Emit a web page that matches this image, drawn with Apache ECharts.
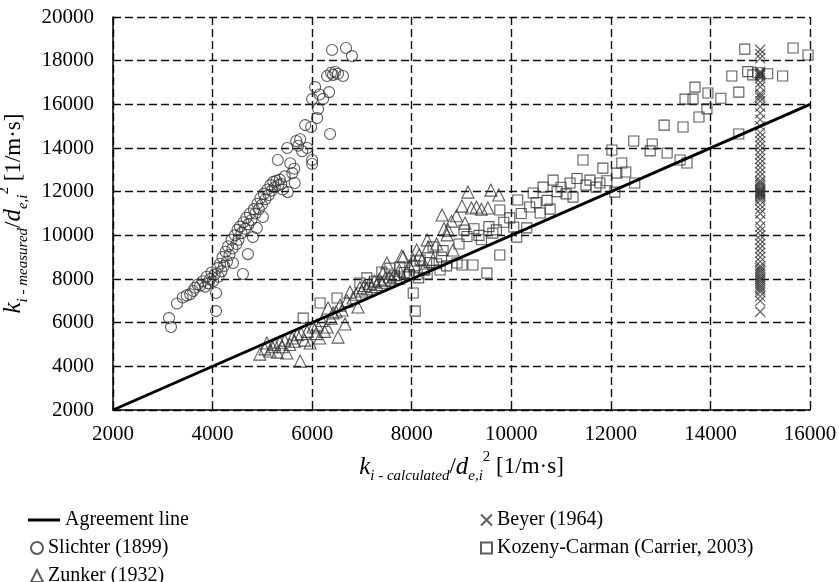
<!DOCTYPE html>
<html>
<head>
<meta charset="utf-8">
<script src="https://cdn.jsdelivr.net/npm/echarts@6/dist/echarts.min.js"></script>
<style>
  html, body { margin: 0; padding: 0; background: #fff; }
  #chart { width: 839px; height: 582px; }
</style>
</head>
<body>
<div id="chart"></div>
<script>
// tick labels
var xTicks = [2000, 16000, 2000];   // min, max, step
var yTicks = [2000, 20000, 2000];

// 1:1 agreement line end points
var agreementLine = [[2000, 2000], [16000, 16000]];

// Slichter (1899)
var slichter = [
    [3125,6210],[3165,5800],[3285,6880],[3400,7150],[3480,7250],[3550,7300],[3610,7450],[3650,7600],
    [3700,7750],[3750,7700],[3800,7900],[3850,7650],[3880,8100],[3920,7800],[3950,8000],[3980,8300],
    [4010,7900],[4040,8200],[4070,7360],[4070,6530],[4100,8500],[4120,8100],[4150,8700],[4180,8350],
    [4200,9000],[4230,8600],[4260,9250],[4290,8800],[4310,9500],[4340,9100],[4380,9800],[4400,9400],
    [4410,8730],[4450,10000],[4480,9600],[4500,10250],[4520,9800],[4550,10400],[4580,10100],[4610,8230],
    [4620,10600],[4650,10300],[4680,10800],[4710,9140],[4720,10500],[4750,11000],[4780,10700],[4810,9920],
    [4830,11200],[4860,11000],[4890,10340],[4900,11450],[4930,11200],[4960,11700],[4990,11400],[5010,10840],
    [5030,11900],[5060,11650],[5100,12100],[5130,11850],[5160,12300],[5190,12050],[5220,12450],[5250,12200],
    [5280,12500],[5310,13450],[5320,12300],[5350,12550],[5380,12350],[5410,12100],[5450,12700],[5500,14000],
    [5510,11980],[5560,13300],[5600,12850],[5640,13050],[5650,12400],[5680,14320],[5720,14100],[5760,14400],
    [5800,13850],[5860,15050],[5900,14000],[5980,14960],[6000,13450],[6000,13270],[6000,16240],[6060,16790],
    [6100,15370],[6120,15790],[6150,16450],[6220,16250],[6300,17300],[6340,16560],[6360,14640],[6380,17450],
    [6420,17350],[6460,17480],[6400,18490],[6520,17400],[6620,17300],[6680,18580],[6800,18210]
];

// Zunker (1932)
var zunker = [
    [4950,4560],[5050,4800],[5090,5070],[5150,4700],[5200,4900],[5250,5000],[5300,4650],[5350,5100],
    [5400,4900],[5450,5200],[5490,4610],[5550,5000],[5600,5300],[5650,5150],[5700,5450],[5760,4240],
    [5780,5500],[5850,5200],[5900,5600],[5960,5070],[6020,5800],[6080,5500],[6100,5900],[6150,5300],
    [6200,6100],[6250,5600],[6300,5800],[6320,6670],[6380,6200],[6420,6440],[6480,6500],[6520,5340],
    [6560,6800],[6600,6580],[6660,5940],[6700,7000],[6760,7400],[6820,7130],[6880,7300],[6920,6720],
    [6960,7600],[7000,7450],[7050,7700],[7100,7550],[7150,7800],[7200,7650],[7250,7900],[7300,7750],
    [7350,8000],[7400,7850],[7420,8270],[7450,7950],[7500,8730],[7550,8100],[7600,7950],[7650,8200],
    [7700,8050],[7750,8400],[7800,9050],[7830,9010],[7900,8300],[7950,8600],[8030,8870],[8100,9330],
    [8150,9100],[8210,8870],[8250,8500],[8310,9790],[8330,9470],[8430,8900],[8500,9600],[8610,10930],
    [8650,10300],[8710,10020],[8730,10240],[8800,10650],[8830,9330],[8900,10900],[9010,11340],[9070,10560],
    [9130,11980],[9200,11250],[9300,11300],[9400,11200],[9530,11250],[9590,12070],[9750,11850]
];

// Beyer (1964), all at the same calculated value
var beyerX = 15000;
var beyerY = [
    18500,18300,18100,17500,17450,17400,17350,17300,17200,17000,16800,16500,16400,16300,16150,15900,
    15600,15300,15000,14700,14500,14300,14100,13900,13700,13500,13300,13100,12900,12700,12500,12400,
    12300,12200,12100,12050,12000,11950,11900,11850,11800,11700,11600,11400,11200,11000,10700,10400,
    10200,10000,9800,9600,9400,9200,9000,8800,8600,8500,8400,8300,8200,8100,8000,7900,7800,7700,
    7600,7500,7400,7200,7000,6500
];

// Kozeny-Carman (Carrier, 2003)
var kozeny = [
    [5820,6210],[6160,6900],[6500,7130],[6960,7820],[7100,8050],[7250,7900],[7400,8320],[7560,8500],
    [7650,8150],[7760,8550],[7760,8000],[7850,8300],[7950,8200],[8030,7360],[8070,6530],[8060,8600],
    [8140,8050],[8170,8870],[8250,8400],[8310,8230],[8350,8750],[8430,9470],[8500,8700],[8570,8410],
    [8600,9000],[8630,9300],[8700,8600],[8910,8730],[8950,9600],[9010,8640],[9050,10240],[9110,9950],
    [9230,8640],[9250,10300],[9350,10000],[9400,9800],[9510,8270],[9550,10400],[9630,10100],[9700,10250],
    [9770,9100],[9770,11160],[9850,10600],[9970,10800],[10050,10380],[10110,9920],[10130,11620],[10200,11000],
    [10310,10340],[10370,11300],[10440,11940],[10500,11500],[10580,11020],[10640,12210],[10720,11600],[10780,11200],
    [10840,12530],[10920,12000],[11000,12200],[11100,11900],[11180,12400],[11240,11750],[11320,12600],[11440,13450],
    [11500,12300],[11580,12530],[11700,12210],[11780,12400],[11840,13080],[11920,12500],[12020,13910],[12080,11980],
    [12120,12850],[12220,13310],[12300,12900],[12460,14320],[12480,12400],[12790,13870],[12830,14180],[13070,15050],
    [13130,13770],[13390,13450],[13450,14960],[13490,16240],[13530,13310],[13650,16240],[13690,16790],[13770,15420],
    [13930,15790],[13950,16520],[14210,16280],[14430,17300],[14570,16560],[14570,14640],[14690,18530],[14750,17500],
    [14850,17350],[14950,17450],[15150,17400],[15450,17300],[15660,18580],[15960,18260]
];

var beyer = beyerY.map(function (y) { return [beyerX, y]; });

var font = 'Liberation Serif';
var crossPath = 'path://M0,0L10,10M10,0L0,10';

var nameRich = {
    k: { fontFamily: font, fontStyle: 'italic', fontSize: 25, lineHeight: 34, color: '#000' },
    t: { fontFamily: font, fontSize: 23, lineHeight: 34, color: '#000' },
    sub: { fontFamily: font, fontStyle: 'italic', fontSize: 15, lineHeight: 14, verticalAlign: 'bottom', color: '#000' },
    sup: { fontFamily: font, fontSize: 15, lineHeight: 14, verticalAlign: 'top', color: '#000' }
};

var markStyle = { color: 'transparent', borderColor: '#333', borderWidth: 1.1 };
var legendText = { fontFamily: font, fontSize: 20, color: '#000', lineHeight: 22 };

// one small legend per entry so that the rows sit where the original has them
function legendAt(name, left, top, w, h, gap) {
    return {
        orient: 'vertical', left: left, top: top, padding: 0,
        itemWidth: w, itemHeight: h, itemTextGap: gap,
        textStyle: legendText,
        data: [name]
    };
}

var lineLegend = legendAt('Agreement line', 28, 509, 32, 3, 0);
lineLegend.data = [{ name: 'Agreement line', icon: 'rect', itemStyle: { color: '#000' } }];

var chart = echarts.init(document.getElementById('chart'));
chart.setOption({
    animation: false,
    textStyle: { fontFamily: font, color: '#000' },
    grid: { left: 113, right: 29, top: 17, bottom: 172, outerBoundsMode: 'none', containLabel: false },
    xAxis: {
        type: 'value',
        min: xTicks[0], max: xTicks[1], interval: xTicks[2],
        name: '{k|k}{sub|i - calculated}{t|/}{k|d}{sub|e,i}{sup|2}{t| [1/m·s]}',
        nameLocation: 'middle',
        nameGap: 40,
        nameTextStyle: { rich: nameRich },
        axisLine: { lineStyle: { color: '#000', width: 1.5 } },
        axisTick: { inside: true, length: 5, lineStyle: { color: '#000' } },
        axisLabel: { fontFamily: font, fontSize: 21, color: '#000', margin: 14,
            formatter: function (v) { return String(v); } },
        splitLine: { lineStyle: { color: '#111', width: 1.4, type: [8, 4] } }
    },
    yAxis: {
        type: 'value',
        min: yTicks[0], max: yTicks[1], interval: yTicks[2],
        name: '{k|k}{sub|i - measured}{t|/}{k|d}{sub|e,i}{sup|2}{t| [1/m·s]}',
        nameLocation: 'middle',
        nameGap: 66,
        nameTextStyle: { rich: nameRich },
        axisLine: { show: true, lineStyle: { color: '#000', width: 1.5 } },
        axisTick: { show: true, inside: true, length: 5, lineStyle: { color: '#000' } },
        axisLabel: { fontFamily: font, fontSize: 21, color: '#000', margin: 19,
            formatter: function (v) { return String(v); } },
        splitLine: { lineStyle: { color: '#111', width: 1.4, type: [8, 4] } }
    },
    legend: [
        lineLegend,
        legendAt('Slichter (1899)', 30, 537, 12, 12, 13),
        legendAt('Zunker (1932)', 30, 565, 12, 12, 13),
        legendAt('Beyer (1964)', 480, 509, 11, 11, 12),
        legendAt('Kozeny-Carman (Carrier, 2003)', 480, 537, 11, 11, 12)
    ],
    series: [{
        name: 'Slichter (1899)',
        type: 'scatter',
        symbol: 'circle',
        symbolSize: 11,
        itemStyle: markStyle,
        data: slichter
    }, {
        name: 'Zunker (1932)',
        type: 'scatter',
        symbol: 'triangle',
        symbolSize: 12,
        itemStyle: markStyle,
        data: zunker
    }, {
        name: 'Beyer (1964)',
        type: 'scatter',
        symbol: crossPath,
        symbolSize: 10,
        itemStyle: markStyle,
        data: beyer
    }, {
        name: 'Kozeny-Carman (Carrier, 2003)',
        type: 'scatter',
        symbol: 'rect',
        symbolSize: 10,
        itemStyle: markStyle,
        data: kozeny
    }, {
        name: 'Agreement line',
        type: 'line',
        symbol: 'none',
        z: 5,
        lineStyle: { color: '#000', width: 3 },
        data: agreementLine
    }]
});
</script>
</body>
</html>
